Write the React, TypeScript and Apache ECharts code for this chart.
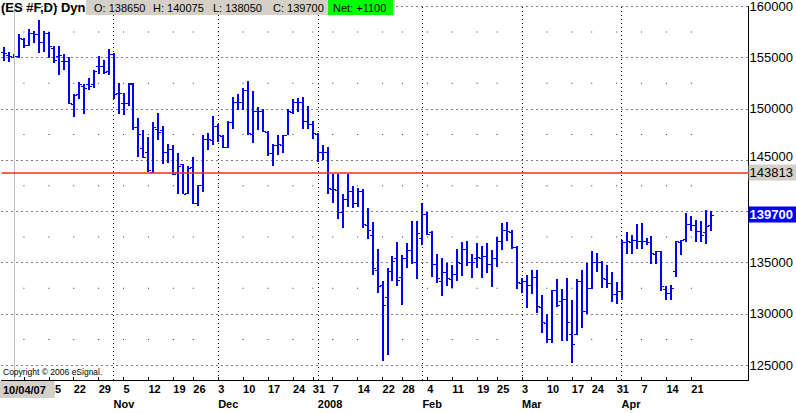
import React, { useEffect, useRef } from "react";
import * as echarts from "echarts";

// Trading days shown on the chart (one bar per day)
const tradingMonths = [
  { year: 2007, month: 10, days: [2, 3, 4, 5, 8, 9, 10, 11, 12, 15, 16, 17, 18, 19, 22, 23, 24, 25, 26, 29, 30, 31] },
  { year: 2007, month: 11, days: [1, 2, 5, 6, 7, 8, 9, 12, 13, 14, 15, 16, 19, 20, 21, 23, 26, 27, 28, 29, 30] },
  { year: 2007, month: 12, days: [3, 4, 5, 6, 7, 10, 11, 12, 13, 14, 17, 18, 19, 20, 21, 24, 26, 27, 28, 31] },
  { year: 2008, month: 1, days: [2, 3, 4, 7, 8, 9, 10, 11, 14, 15, 16, 17, 18, 22, 23, 24, 25, 28, 29, 30, 31] },
  { year: 2008, month: 2, days: [1, 4, 5, 6, 7, 8, 11, 12, 13, 14, 15, 19, 20, 21, 22, 25, 26, 27, 28, 29] },
  { year: 2008, month: 3, days: [3, 4, 5, 6, 7, 10, 11, 12, 13, 14, 17, 18, 19, 20, 24, 25, 26, 27, 28, 31] },
  { year: 2008, month: 4, days: [1, 2, 3, 4, 7, 8, 9, 10, 11, 14, 15, 16, 17, 18, 21, 22, 23, 24, 25] },
];

const opens = [
  155600, 155300, 155100, 155125, 156875, 156250, 157375, 157275, 156575, 157375,
  155925, 155125, 154700, 154700, 150475, 151450, 152275, 152400, 152400, 154225,
  154225, 153675, 155350, 151600, 150550, 150550, 152475, 148225, 146150, 145775,
  143900, 148075, 147925, 145775, 146100, 143900, 144650, 141825, 144300, 140800,
  142550, 147050, 146950, 148325, 147400, 146325, 148725, 150725, 150725, 151850,
  147600, 149850, 149850, 147750, 145675, 146525, 146475, 147425, 149675, 150650,
  150650, 148875, 148550, 147600, 145825, 145825, 142200, 142075, 139975, 141200,
  142000, 140800, 141975, 138725, 137725, 134325, 132800, 131675, 134225, 135500,
  133650, 135450, 136225, 135100, 137400, 139750, 137975, 134875, 133175, 134050,
  133425, 133900, 134975, 136325, 135025, 135500, 135500, 135700, 134850, 135450,
  137075, 138225, 137975, 136550, 133000, 133225, 132825, 133625, 130675, 129125,
  127575, 132300, 131275, 131450, 128000, 128000, 133225, 130300, 132525, 135100,
  135100, 133375, 133000, 131900, 132200, 137025, 137025, 137175, 137125, 137125,
  136975, 135875, 136125, 132400, 132075, 134225, 137025, 137350, 138775, 138725,
  138050, 137975, 138650,
];
const highs = [
  156000, 155600, 155350, 157275, 156950, 157775, 157600, 158650, 157600, 157525,
  156100, 156150, 155350, 155025, 151450, 152650, 152400, 152975, 153850, 155125,
  154800, 155875, 155450, 152575, 151600, 152500, 152500, 149125, 147975, 147275,
  148725, 149575, 148300, 146625, 146475, 145675, 144650, 144400, 145350, 142625,
  147450, 147700, 149275, 148550, 147450, 148875, 151125, 151500, 152025, 152725,
  151775, 150225, 150000, 147825, 146625, 147500, 147500, 150000, 150950, 151025,
  151125, 150325, 148800, 147650, 146475, 146325, 143650, 143675, 141675, 143675,
  142475, 142300, 142200, 140325, 138950, 136350, 133200, 134450, 135675, 137025,
  135800, 136925, 139075, 139075, 140875, 139975, 138050, 135825, 135425, 134925,
  134800, 136325, 137025, 137125, 135900, 136925, 136650, 136950, 136200, 137550,
  138850, 138950, 138200, 136625, 133550, 133825, 134300, 134300, 131825, 130025,
  132375, 133400, 132425, 133550, 131350, 133425, 134300, 135000, 136125, 135975,
  135150, 134775, 134050, 133100, 137175, 137975, 137750, 138775, 138850, 137400,
  137650, 136175, 136175, 132775, 132850, 137125, 137250, 139900, 139525, 139200,
  139050, 140100, 140075,
];
const lows = [
  154700, 154600, 154975, 154975, 155925, 156100, 156400, 155500, 155600, 154975,
  154475, 153300, 153850, 150475, 149200, 150950, 149525, 151825, 152075, 153375,
  153375, 153275, 150950, 149525, 149425, 150325, 147975, 145350, 145200, 143900,
  143750, 146950, 144650, 144700, 143550, 141700, 141675, 141675, 140725, 140550,
  141900, 146000, 146500, 146800, 146150, 146150, 148075, 149925, 149925, 147425,
  146725, 147925, 147750, 145425, 144475, 145500, 145675, 147425, 149525, 149675,
  148075, 148025, 147025, 144800, 144975, 141675, 140875, 139275, 138400, 140475,
  140325, 140400, 138400, 137350, 133850, 132050, 125425, 125975, 133175, 132700,
  130875, 134525, 134900, 133400, 136700, 137725, 133650, 133025, 131775, 132700,
  132525, 133175, 133725, 134675, 133550, 134450, 133500, 134000, 132600, 134550,
  136275, 137075, 136325, 132425, 132000, 130600, 131900, 130125, 128100, 127150,
  127150, 130700, 127400, 127400, 125225, 127950, 128600, 129975, 132475, 134075,
  132525, 132525, 131150, 130925, 131400, 135900, 135900, 136375, 136375, 136750,
  134900, 134900, 132250, 131400, 131400, 133650, 135800, 137050, 138075, 137025,
  137050, 136850, 138050,
];
const closes = [
  155450, 155125, 155150, 156900, 156250, 157375, 157275, 156575, 157375, 156100,
  154800, 155300, 154700, 150550, 151375, 152400, 152075, 152250, 153675, 154175,
  153600, 155350, 151500, 151600, 150550, 152500, 148225, 147525, 145350, 144075,
  148225, 147750, 145775, 146100, 143700, 144400, 141725, 144225, 140875, 142575,
  147050, 147100, 148325, 147500, 146325, 148725, 150725, 150725, 151850, 147700,
  149850, 149850, 147825, 145675, 146525, 146550, 147425, 149850, 150650, 150650,
  148875, 148550, 147650, 145825, 145825, 142300, 142200, 139975, 141200, 142000,
  140800, 141975, 138775, 138175, 134475, 132750, 130875, 134225, 135200, 133325,
  135450, 136225, 135100, 137875, 139750, 137825, 134875, 133525, 134050, 133525,
  133900, 135100, 136325, 135100, 135100, 135575, 135700, 134850, 135450, 137100,
  138225, 138050, 136550, 133075, 133175, 132825, 133625, 130775, 129175, 127575,
  132300, 130875, 131475, 129175, 127025, 133225, 130300, 132525, 135100, 135100,
  133475, 133000, 131900, 132200, 137025, 137075, 137200, 137125, 137125, 137025,
  135925, 136125, 132725, 132075, 132575, 137075, 137175, 138775, 138675, 138050,
  137725, 138600, 139700,
];

const monthNames = ["", "Jan", "Feb", "Mar", "Apr", "May", "Jun", "Jul", "Aug", "Sep", "Oct", "Nov", "Dec"];
const symbolTitle = "(ES #F,D) Dyn";
const copyrightText = "Copyright \u00a9 2006 eSignal.";
const referenceLevel = 143813;
const cursorIndex = 2;
const blankSlots = 7;
const yMax = 160000;
const yStep = 5000;

const pad2 = (n: number) => (n < 10 ? "0" + n : "" + n);

const dateObjs: Date[] = [];
tradingMonths.forEach((m) => m.days.forEach((d) => dateObjs.push(new Date(m.year, m.month - 1, d))));
const dateLabels = dateObjs.map(
  (d) => `${pad2(d.getMonth() + 1)}/${pad2(d.getDate())}/${pad2(d.getFullYear() % 100)}`
);
const categories = dateLabels.concat(Array.from({ length: blankSlots }, (_, k) => " ".repeat(k + 1)));

const isWeekStart = (i: number) => i > 0 && i < dateObjs.length && dateObjs[i].getDay() < dateObjs[i - 1].getDay();
const isMonthStart = (i: number) => i > 0 && i < dateObjs.length && dateObjs[i].getMonth() !== dateObjs[i - 1].getMonth();
const monthLabel = (i: number) => {
  const d = dateObjs[i];
  if (d.getFullYear() !== dateObjs[i - 1].getFullYear()) return String(d.getFullYear());
  return monthNames[d.getMonth() + 1];
};

export default function App() {
  const ref = useRef<HTMLDivElement>(null);

  useEffect(() => {
    if (!ref.current) return;
    const chart = echarts.init(ref.current, undefined, { renderer: "svg" });

    const gridTop = 1;
    const gridBottomY = 380;
    const plotH = gridBottomY - gridTop;
    const pxPerStep = 52;
    const yMin = yMax - (plotH / pxPerStep) * yStep;

    const ohlc = opens.map((o, i) => [i, o, highs[i], lows[i], closes[i]]);
    const weekIdx: number[] = [];
    const monthIdx: number[] = [];
    dateObjs.forEach((_, i) => {
      if (isWeekStart(i)) weekIdx.push(i);
      if (isMonthStart(i)) monthIdx.push(i);
    });
    const halfLevels: number[] = [];
    for (let v = Math.ceil(yMin / yStep) * yStep + yStep / 2; v < yMax; v += yStep) halfLevels.push(v);
    const minorDots: number[][] = [];
    weekIdx.forEach((w) => halfLevels.forEach((lv) => minorDots.push([w, lv])));

    const last = opens.length - 1;
    const net = closes[last] - closes[last - 1];
    // week labels that sit entirely under the cursor-date box are not drawn
    const firstVisibleWeekLabel = 8;

    const font = "Arial, 'Liberation Sans', sans-serif";

    chart.setOption({
      animation: false,
      backgroundColor: "#ffffff",
      grid: { left: 1.5, right: 44.5, top: gridTop, bottom: 413 - gridBottomY, containLabel: false },
      xAxis: [
        {
          type: "category",
          data: categories,
          boundaryGap: true,
          axisLine: { show: true, lineStyle: { color: "#000", width: 1 } },
          axisTick: {
            show: true,
            inside: true,
            length: 3,
            alignWithLabel: true,
            interval: (i: number) => isWeekStart(i),
            lineStyle: { color: "#000" },
          },
          axisLabel: {
            show: true,
            interval: (i: number) => isWeekStart(i) && i >= firstVisibleWeekLabel,
            formatter: (_v: string, i: number) => String(dateObjs[i] ? dateObjs[i].getDate() : ""),
            align: "left",
            margin: 3,
            color: "#000",
            fontFamily: font,
            fontWeight: "bold",
            fontSize: 11,
          },
          splitLine: { show: false },
        },
        {
          type: "category",
          data: categories,
          boundaryGap: true,
          position: "bottom",
          offset: 15,
          axisLine: { show: false },
          axisTick: { show: false },
          axisLabel: {
            show: true,
            interval: (i: number) => isMonthStart(i),
            formatter: (_v: string, i: number) => (isMonthStart(i) ? monthLabel(i) : ""),
            align: "left",
            margin: 3,
            color: "#000",
            fontFamily: font,
            fontWeight: "bold",
            fontSize: 11,
          },
          splitLine: { show: false },
        },
      ],
      yAxis: {
        type: "value",
        position: "right",
        min: yMin,
        max: yMax,
        minInterval: yStep,
        maxInterval: yStep,
        axisLine: { show: true, lineStyle: { color: "#000", width: 1 } },
        axisTick: { show: false },
        axisLabel: {
          show: true,
          showMinLabel: false,
          margin: 1,
          color: "#000",
          fontFamily: font,
          fontSize: 13,
          formatter: (v: number) => {
            const r = Math.round(v);
            if (Math.abs(r - closes[last]) < yStep / 2) return "";
            if (Math.abs(r - referenceLevel) < yStep / 2) return `{up|${r}}`;
            return String(r);
          },
          rich: {
            up: { fontFamily: font, fontSize: 13, color: "#000", padding: [0, 0, 8, 0] },
          },
        },
        splitLine: { show: true, lineStyle: { color: "#000", width: 1, type: [1, 4] } },
      },
      series: [
        {
          type: "scatter",
          data: minorDots,
          symbol: "rect",
          symbolSize: [1, 1],
          itemStyle: { color: "#000" },
          silent: true,
          z: 1,
        },
        {
          type: "custom",
          data: ohlc,
          encode: { x: 0, y: [1, 2, 3, 4] },
          z: 3,
          renderItem: (_params: any, api: any) => {
            const i = api.value(0);
            const pO = api.coord([i, api.value(1)]);
            const pH = api.coord([i, api.value(2)]);
            const pL = api.coord([i, api.value(3)]);
            const pC = api.coord([i, api.value(4)]);
            const cx = Math.round(pH[0]);
            const yH = Math.round(pH[1]);
            const yL = Math.round(pL[1]);
            const st = { fill: "#0000ff" };
            return {
              type: "group",
              children: [
                { type: "rect", shape: { x: cx - 1, y: yH, width: 2, height: Math.max(1, yL - yH) }, style: st },
                { type: "rect", shape: { x: cx - 3, y: Math.round(pO[1]), width: 2, height: 1 }, style: st },
                { type: "rect", shape: { x: cx + 1, y: Math.round(pC[1]), width: 2, height: 1 }, style: st },
              ],
            };
          },
          markLine: {
            silent: true,
            symbol: ["none", "none"],
            animation: false,
            data: [
              ...monthIdx.map((m) => ({
                xAxis: m,
                lineStyle: { color: "#000", width: 1, type: [1, 3] },
                label: { show: false },
              })),
              {
                xAxis: cursorIndex,
                lineStyle: { color: "#c0c0c0", width: 1, type: "solid" },
                label: { show: false },
              },
              {
                yAxis: referenceLevel,
                lineStyle: { color: "#ff2a1f", width: 1.5, type: "solid" },
                label: {
                  show: true,
                  position: "end",
                  distance: 0,
                  formatter: String(referenceLevel),
                  backgroundColor: "#d4d0c8",
                  color: "#000",
                  fontFamily: font,
                  fontSize: 13,
                  padding: [2, 4, 1, 1],
                },
              },
              {
                yAxis: closes[last],
                lineStyle: { color: "rgba(0,0,0,0)", width: 0 },
                label: {
                  show: true,
                  position: "end",
                  distance: 0,
                  formatter: String(closes[last]),
                  backgroundColor: "#0000ff",
                  color: "#ffffff",
                  fontWeight: "bold",
                  fontFamily: font,
                  fontSize: 13,
                  padding: [2, 4, 1, 1],
                },
              },
            ],
          },
        },
      ],
      graphic: [
        {
          type: "text",
          x: 1,
          y: 1,
          z: 100,
          style: { text: symbolTitle, font: `bold 13px ${font}`, fill: "#000" },
        },
        { type: "rect", z: 100, shape: { x: 86, y: 0, width: 309, height: 15 }, style: { fill: "#d4d0c8" } },
        {
          type: "text",
          x: 94,
          y: 8,
          z: 101,
          style: { text: `O: ${opens[last]}`, font: `11px ${font}`, fill: "#000", verticalAlign: "middle" },
        },
        {
          type: "text",
          x: 153,
          y: 8,
          z: 101,
          style: { text: `H: ${highs[last]}`, font: `11px ${font}`, fill: "#000", verticalAlign: "middle" },
        },
        {
          type: "text",
          x: 213,
          y: 8,
          z: 101,
          style: { text: `L: ${lows[last]}`, font: `11px ${font}`, fill: "#000", verticalAlign: "middle" },
        },
        {
          type: "text",
          x: 273,
          y: 8,
          z: 101,
          style: { text: `C: ${closes[last]}`, font: `11px ${font}`, fill: "#000", verticalAlign: "middle" },
        },
        { type: "rect", z: 101, shape: { x: 328, y: 0, width: 65, height: 15 }, style: { fill: "#00ff00" } },
        {
          type: "text",
          x: 333,
          y: 8,
          z: 102,
          style: {
            text: `Net: ${net >= 0 ? "+" : ""}${net}`,
            font: `11px ${font}`,
            fill: "#000",
            verticalAlign: "middle",
          },
        },
        {
          type: "text",
          x: 3,
          y: 367,
          z: 100,
          style: { text: copyrightText, font: `8.5px ${font}`, fill: "#000" },
        },
        {
          type: "text",
          x: 0,
          y: 381,
          z: 100,
          style: {
            text: dateLabels[cursorIndex],
            font: `bold 11px ${font}`,
            fill: "#000",
            backgroundColor: "#d4d0c8",
            padding: [2, 9, 2, 3],
            lineHeight: 13,
          },
        },
      ],
    });

    return () => chart.dispose();
  }, []);

  return (
    <div
      ref={ref}
      style={{ position: "fixed", left: 0, top: 0, width: 796, height: 413, background: "#fff" }}
    />
  );
}
